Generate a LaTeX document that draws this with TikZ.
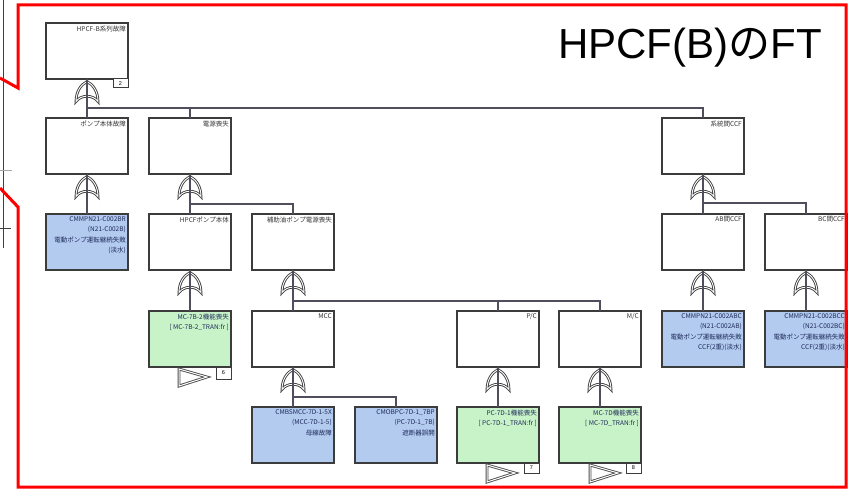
\documentclass[tikz,border=0pt]{standalone}
\usepackage{fontspec}
\setmainfont{Liberation Sans}
\newfontfamily\jpfont{Noto Sans CJK JP}
\definecolor{framered}{HTML}{FF0000}
\definecolor{boxline}{HTML}{3C3C3C}
\definecolor{connline}{HTML}{4E4E5C}
\definecolor{bluefill}{HTML}{B3CBEF}
\definecolor{greenfill}{HTML}{C8F3C8}
\definecolor{navytext}{HTML}{1E2A5A}
\definecolor{graytext}{HTML}{333333}
\tikzset{
 ftbox/.style={draw=boxline, line width=1.3pt, fill=white, minimum width=82pt, minimum height=56pt, inner sep=0pt, outer sep=0pt},
 bluebox/.style={ftbox, fill=bluefill},
 greenbox/.style={ftbox, fill=greenfill},
 boxtext/.style={font=\jpfont\fontsize{6.5}{10.3}\selectfont, align=right, inner sep=0pt, text=graytext},
 colortext/.style={boxtext, text=navytext},
 conn/.style={draw=connline, line width=2pt},
 gatestyle/.style={draw=black!75, line width=0.9pt, double=white, double distance=0.9pt, fill=white},
 trstyle/.style={draw=black!70, line width=0.9pt, double=white, double distance=1pt, fill=white},
 numbox/.style={draw=boxline, line width=1pt, fill=white, minimum width=15pt, minimum height=10pt, inner sep=0pt, outer sep=0pt, font=\fontsize{5.5}{5.5}\selectfont},
 orgate/.pic={
   \path[gatestyle] (0,0) .. controls (6,3) and (11,10) .. (11,20)
     .. controls (6,13) and (-6,13) .. (-11,20)
     .. controls (-11,10) and (-6,3) .. (0,0) -- cycle;
 },
 transfer/.pic={
   \path[trstyle] (-11,2) -- (-11,19) -- (17,10) -- cycle;
 }
}
\newcommand\ftnode[4]{%
 \node[#2] (#1) at (#3) {};
 \node[#2text, anchor=north east] (#1-t) at ([xshift=-2pt,yshift=-2.5pt]#1.north east) {#4};
}
\begin{document}
\begin{tikzpicture}[x=1pt,y=-1pt]
\useasboundingbox (0,0) rectangle (854,492);
\fill[white] (0,0) rectangle (854,492);
% left table lines
\draw[black!75, line width=0.8pt] (3,0) -- (3,248);
\draw[black!75, line width=0.8pt] (0,228) -- (11,228);
\draw[black!35, line width=0.6pt] (0,170) -- (12,170);
% boxes
\tikzset{ftboxtext/.style={boxtext}, blueboxtext/.style={colortext}, greenboxtext/.style={colortext}}
\ftnode{top}{ftbox}{87,51}{HPCF-B系列故障}
\ftnode{pump}{ftbox}{87,146}{ポンプ本体故障}
\ftnode{power}{ftbox}{190,146}{電源喪失}
\ftnode{ccf}{ftbox}{703,146}{系統間CCF}
\ftnode{blueBR}{bluebox}{87,242}{CMMPN21-C002BR\\(N21-C002B)\\電動ポンプ運転継続失敗\\(淡水)}
\ftnode{hpcfp}{ftbox}{190,242}{HPCFポンプ本体}
\ftnode{aux}{ftbox}{293,242}{補助油ポンプ電源喪失}
\ftnode{ab}{ftbox}{703,242}{AB間CCF}
\ftnode{bc}{ftbox}{806,242}{BC間CCF}
\ftnode{gsb}{greenbox}{190,339}{MC-7B-2機能喪失\\{[} MC-7B-2\_TRAN:fr ]}
\ftnode{mcc}{ftbox}{293,339}{MCC}
\ftnode{pc}{ftbox}{498,339}{P/C}
\ftnode{mc}{ftbox}{600,339}{M/C}
\ftnode{blueAB}{bluebox}{703,339}{CMMPN21-C002ABC\\(N21-C002AB)\\電動ポンプ運転継続失敗\\CCF(2重)(淡水)}
\ftnode{blueBC}{bluebox}{806,339}{CMMPN21-C002BCC\\(N21-C002BC)\\電動ポンプ運転継続失敗\\CCF(2重)(淡水)}
\ftnode{b5x}{bluebox}{293,435}{CMBSMCC-7D-1-5X\\(MCC-7D-1-5)\\母線故障}
\ftnode{b7bp}{bluebox}{396,435}{CMOBPC-7D-1\_7BP\\(PC-7D-1\_7B)\\遮断器誤開}
\ftnode{gpc}{greenbox}{498,435}{PC-7D-1機能喪失\\{[} PC-7D-1\_TRAN:fr ]}
\ftnode{gmc}{greenbox}{600,435}{MC-7D機能喪失\\{[} MC-7D\_TRAN:fr ]}
% gates
\foreach \g in {top,pump,power,ccf,hpcfp,aux,ab,bc,mcc,pc,mc}
  \pic at ([yshift=-2.5pt]\g.south) {orgate};
% connectors
\draw[conn] (top.south) -- (pump.north);
\draw[conn] ([yshift=-29pt]top.south) -| (power.north);
\draw[conn] ([yshift=-29pt]top.south) -| (ccf.north);
\draw[conn] (pump.south) -- (blueBR.north);
\draw[conn] (power.south) -- (hpcfp.north);
\draw[conn] ([yshift=-30pt]power.south) -| (aux.north);
\draw[conn] (ccf.south) -- (ab.north);
\draw[conn] ([yshift=-29pt]ccf.south) -| (bc.north);
\draw[conn] (hpcfp.south) -- (gsb.north);
\draw[conn] (aux.south) -- (mcc.north);
\draw[conn] ([yshift=-31pt]aux.south) -| (pc.north);
\draw[conn] ([yshift=-31pt]aux.south) -| (mc.north);
\draw[conn] (ab.south) -- (blueAB.north);
\draw[conn] (bc.south) -- (blueBC.north);
\draw[conn] (mcc.south) -- (b5x.north);
\draw[conn] ([yshift=-30pt]mcc.south) -| (b7bp.north);
\draw[conn] (pc.south) -- (gpc.north);
\draw[conn] (mc.south) -- (gmc.north);
% number boxes
\node[numbox, minimum height=9pt, anchor=north east] (top-n) at (top.south east) {2};
\node[numbox, minimum height=12pt, anchor=north east] (gsb-n) at (gsb.south east) {6};
\node[numbox, anchor=north east] (gpc-n) at (gpc.south east) {7};
\node[numbox, anchor=north east] (gmc-n) at (gmc.south east) {8};
% transfer triangles
\pic at (gsb.south) {transfer};
\pic at (gpc.south) {transfer};
\pic at ([xshift=1pt]gmc.south) {transfer};
% title
\node[font=\fontsize{42}{42}\selectfont, anchor=base east, inner sep=0pt] (title) at (822,59) {HPCF(B){\jpfont の}FT};
% cover overflow at right and red frame
\fill[white] (847.5,0) rectangle (854,492);
\draw[framered, line width=3pt, line join=miter] (0,78) -- (18,88) -- (18,5) -- (846,5) -- (846,487) -- (18,487) -- (18,207) -- (0,188);
\end{tikzpicture}
\end{document}
